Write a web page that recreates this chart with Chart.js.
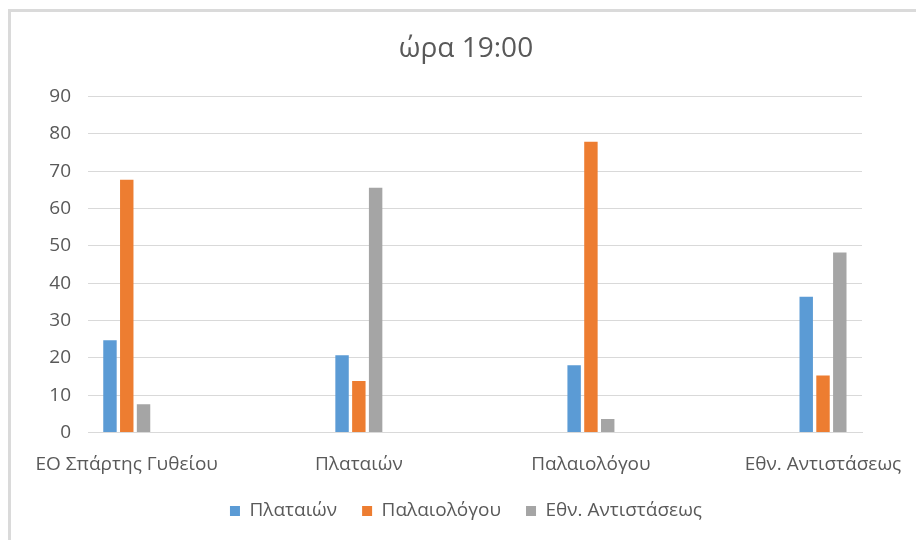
<!DOCTYPE html>
<html>
<head>
<meta charset="utf-8">
<script src="https://cdn.jsdelivr.net/npm/chart.js@4/dist/chart.umd.min.js"></script>
<style>
  html, body { margin: 0; padding: 0; background: #ffffff; }
  #wrap { width: 916px; height: 540px; position: relative; }
</style>
</head>
<body>
<div id="wrap"><canvas id="c" width="916" height="540"></canvas></div>
<script>
// Measuring points (categories on the x axis)
const categories = ['ΕΟ Σπάρτης Γυθείου', 'Πλαταιών', 'Παλαιολόγου', 'Εθν. Αντιστάσεως'];
// Series names shown in the legend
const seriesNames = ['Πλαταιών', 'Παλαιολόγου', 'Εθν. Αντιστάσεως'];
// Values at 19:00
const plataionValues = [24.7, 20.7, 18.0, 36.4];
const palaiologouValues = [67.7, 13.8, 77.9, 15.3];
const antistaseosValues = [7.6, 65.6, 3.6, 48.2];
// Y axis ticks
const yTicks = [0, 10, 20, 30, 40, 50, 60, 70, 80, 90];

const seriesValues = [plataionValues, palaiologouValues, antistaseosValues];
const seriesColors = ['#5b9bd5', '#ed7d31', '#a5a5a5'];
const textColor = '#595959';
const gridColor = '#d9d9d9';
const fontFamily = '"Open Sans", "DejaVu Sans", sans-serif';

const datasets = seriesNames.map((name, s) => ({
  label: name,
  data: categories.map((c, i) => ({ x: i, y: seriesValues[s][i] })),
  backgroundColor: seriesColors[s],
  borderWidth: 0,
  categoryPercentage: 0.217,
  barPercentage: 0.8
}));

// Light frame along the top and left edges
const framePlugin = {
  id: 'frame',
  beforeDraw(chart) {
    const ctx = chart.ctx;
    ctx.save();
    ctx.fillStyle = '#ffffff';
    ctx.fillRect(0, 0, chart.width, chart.height);
    ctx.fillStyle = '#dadada';
    ctx.fillRect(8, 9, chart.width - 8, 3);
    ctx.fillRect(8, 9, 3, chart.height - 9);
    ctx.restore();
  }
};

new Chart(document.getElementById('c'), {
  type: 'bar',
  data: { datasets },
  plugins: [framePlugin],
  options: {
    responsive: false,
    animation: false,
    devicePixelRatio: 1,
    layout: { padding: { left: 16, right: 0, top: 0, bottom: 9.5 } },
    plugins: {
      title: {
        display: true,
        text: 'ώρα 19:00',
        color: textColor,
        font: { family: fontFamily, size: 28, weight: 'normal' },
        padding: { top: 32, bottom: 31 }
      },
      legend: {
        display: true,
        position: 'bottom',
        labels: {
          color: textColor,
          font: { family: fontFamily, size: 19 },
          boxWidth: 10,
          boxHeight: 10,
          padding: 25
        }
      },
      tooltip: { enabled: false }
    },
    scales: {
      x: {
        type: 'linear',
        position: 'bottom',
        offset: false,
        min: -0.167,
        max: 3.168,
        grid: { display: false, drawTicks: false },
        border: { display: true, color: gridColor, width: 1 },
        afterBuildTicks(scale) {
          scale.ticks = categories.map((c, i) => ({ value: i }));
        },
        afterFit(scale) {
          scale.height = 44;
          scale.paddingLeft = 0;
          scale.paddingRight = 0;
        },
        ticks: {
          color: textColor,
          font: { family: fontFamily, size: 19 },
          padding: 21,
          maxRotation: 0,
          autoSkip: false,
          callback: (value) => categories[value]
        }
      },
      y: {
        min: 0,
        max: 90,
        afterBuildTicks(scale) {
          scale.ticks = yTicks.map(v => ({ value: v }));
        },
        afterFit(scale) { scale.width = 72; },
        grid: { color: gridColor, lineWidth: 1, drawTicks: false },
        border: { display: false },
        ticks: {
          color: textColor,
          font: { family: fontFamily, size: 19 },
          padding: 17
        }
      },
      // empty right-hand axis that only reserves the margin beside the plot
      yRight: {
        position: 'right',
        min: 0,
        max: 90,
        afterFit(scale) { scale.width = 54; },
        grid: { display: false, drawTicks: false },
        border: { display: false },
        ticks: { display: false }
      }
    }
  }
});
</script>
</body>
</html>
